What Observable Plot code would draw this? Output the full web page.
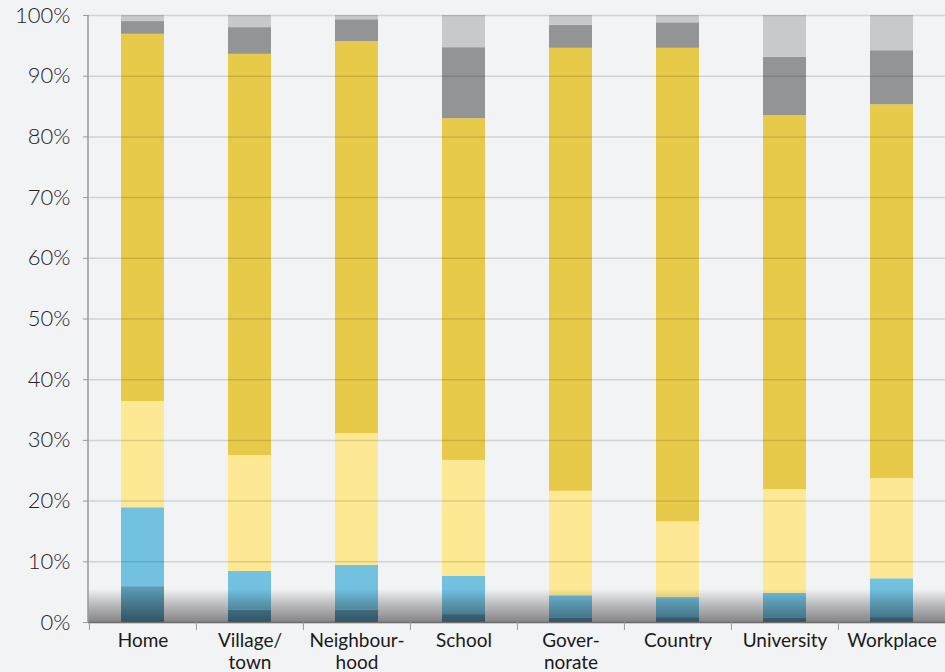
<!DOCTYPE html>
<html>
<head>
<meta charset="utf-8">
<script src="https://cdn.jsdelivr.net/npm/d3@7"></script>
<script src="https://cdn.jsdelivr.net/npm/@observablehq/plot@0.6"></script>
<style>
  html, body { margin: 0; padding: 0; background: #f2f3f5; }
  #chart { width: 945px; height: 672px; overflow: hidden; }
</style>
</head>
<body>
<div id="chart"></div>
<script>
const categories = ["Home", "Village/town", "Neighbourhood", "School", "Governorate", "Country", "University", "Workplace"];
const tickLabels = ["Home", "Village/\ntown", "Neighbour-\nhood", "School", "Gover-\nnorate", "Country", "University", "Workplace"];
const seriesNames = ["Segment 1", "Segment 2", "Segment 3", "Segment 4", "Segment 5", "Segment 6"];
const seriesColors = ["#5b9ab4", "#72c1e0", "#fde993", "#e8ca4a", "#939495", "#c8c9cb"];

const segment1 = [5.9, 2.0, 2.0, 1.3, 0.7, 0.8, 0.7, 0.8];
const segment2 = [13.0, 6.4, 7.4, 6.3, 3.7, 3.3, 4.1, 6.4];
const segment3 = [17.5, 19.1, 21.7, 19.1, 17.2, 12.5, 17.1, 16.5];
const segment4 = [60.5, 66.1, 64.6, 56.3, 73.0, 78.0, 61.6, 61.6];
const segment5 = [2.1, 4.4, 3.6, 11.7, 3.8, 4.2, 9.6, 8.9];
const segment6 = [1.0, 2.0, 0.7, 5.3, 1.6, 1.2, 6.9, 5.8];

const yTicks = [0, 10, 20, 30, 40, 50, 60, 70, 80, 90, 100];
const shadowTop = 5.5;

const seriesValues = [segment1, segment2, segment3, segment4, segment5, segment6];
const data = [];
seriesNames.forEach((s, si) => {
  categories.forEach((c, ci) => data.push({category: c, series: s, value: seriesValues[si][ci]}));
});

function findArgs(args) {
  const scales = args.find(a => a && typeof a.y === "function");
  const dims = args.find(a => a && typeof a.width === "number" && "marginLeft" in a);
  return {scales, dims};
}

function shadowMark(...args) {
  const {scales, dims} = findArgs(args);
  const g = d3.create("svg:g");
  const id = "shadowGrad";
  const grad = g.append("defs").append("linearGradient")
    .attr("id", id).attr("x1", 0).attr("y1", 0).attr("x2", 0).attr("y2", 1);
  grad.append("stop").attr("offset", "0%").attr("stop-color", "#000").attr("stop-opacity", 0);
  grad.append("stop").attr("offset", "45%").attr("stop-color", "#000").attr("stop-opacity", 0.22);
  grad.append("stop").attr("offset", "100%").attr("stop-color", "#000").attr("stop-opacity", 0.45);
  const y0 = scales.y(0), y1 = scales.y(shadowTop);
  g.append("rect")
    .attr("x", dims.marginLeft)
    .attr("y", y1)
    .attr("width", dims.width - dims.marginLeft - dims.marginRight)
    .attr("height", y0 - y1)
    .attr("fill", `url(#${id})`);
  return g.node();
}

function leftLine(...args) {
  const {dims} = findArgs(args);
  const g = d3.create("svg:g");
  g.append("line")
    .attr("x1", dims.marginLeft).attr("x2", dims.marginLeft)
    .attr("y1", dims.marginTop).attr("y2", dims.height - dims.marginBottom)
    .attr("stroke", "#9a9a9c").attr("stroke-width", 1.5);
  return g.node();
}

const bandHalf = (945 - 88) / categories.length / 2;

const plot = Plot.plot({
  width: 945,
  height: 672,
  marginLeft: 88,
  marginRight: 0,
  marginTop: 15,
  marginBottom: 50,
  style: {background: "#f2f3f5", fontFamily: "Lato, 'Open Sans', sans-serif", color: "#222"},
  x: {domain: categories, paddingInner: 0.6, paddingOuter: 0.3, axis: null, label: null},
  y: {domain: [0, 100], axis: null, label: null},
  color: {domain: seriesNames, range: seriesColors},
  marks: [
    Plot.barY(data, {x: "category", y: "value", fill: "series"}),
    Plot.ruleY(yTicks, {stroke: "#000", strokeOpacity: 0.13, strokeWidth: 1.5}),
    shadowMark,
    leftLine,
    Plot.ruleY([0], {stroke: "#6e6e70", strokeWidth: 1.5}),
    Plot.axisY({ticks: yTicks, tickFormat: d => d + "%", tickSize: 5, tickPadding: 13, fontSize: 22, fontWeight: 300, stroke: "#9a9a9c", fill: "#222"}),
    Plot.axisX({tickSize: 8, tickFormat: () => "", dx: -bandHalf, stroke: "#9a9a9c"}),
    Plot.axisX({tickSize: 0, tickPadding: 9, fontSize: 19, fontWeight: 400, lineHeight: 1.15, tickFormat: (d, i) => tickLabels[categories.indexOf(d)], fill: "#1a1a1a"})
  ]
});

document.getElementById("chart").appendChild(plot);
</script>
</body>
</html>
